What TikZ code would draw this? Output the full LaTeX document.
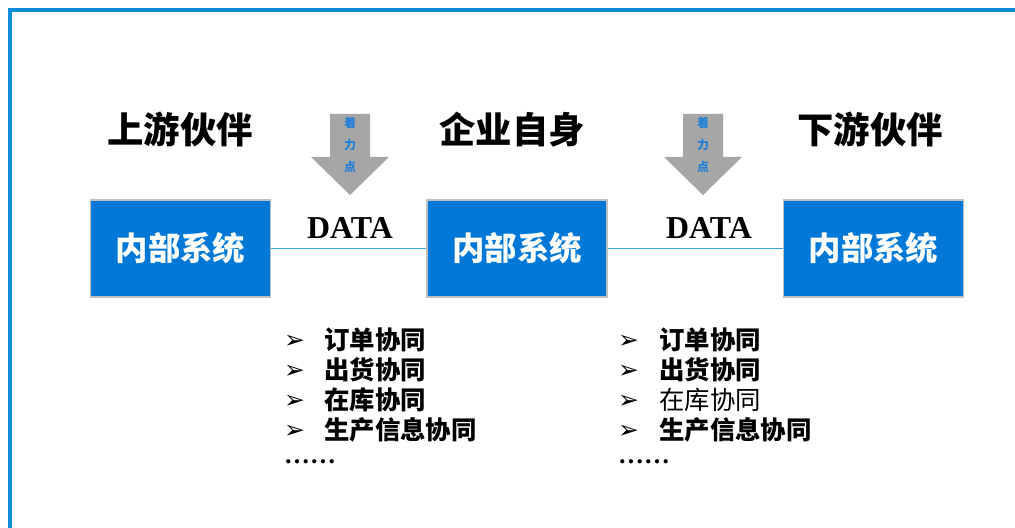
\documentclass[tikz,border=0pt]{standalone}
\usepackage{fontspec}
\setmainfont{Liberation Serif}
\newfontfamily\cjk{Noto Sans CJK SC}
\newfontfamily\dv{DejaVu Sans}
\definecolor{frameblue}{HTML}{0A8CD9}
\definecolor{boxblue}{HTML}{0078D7}
\definecolor{boxedge}{HTML}{BFBFBF}
\definecolor{linkblue}{HTML}{3AA8E8}
\definecolor{arrowgray}{HTML}{A6A6A6}
\definecolor{smallblue}{HTML}{1F7FD8}
\tikzset{
  sysbox/.style={fill=boxblue,draw=boxedge,line width=1.5bp,minimum width=180bp,minimum height=97bp,inner sep=0pt,text=white,font=\cjk\bfseries\fontsize{32.5}{36}\selectfont},
  headtxt/.style={font=\cjk\bfseries\fontsize{36.5}{40}\selectfont,inner sep=0pt},
  datatxt/.style={font=\bfseries\fontsize{32}{36}\selectfont,inner sep=0pt},
  vtxt/.style={font=\cjk\bfseries\fontsize{12}{14}\selectfont,text=smallblue,inner sep=0pt},
  bul/.style={font=\dv\bfseries\fontsize{25}{28}\selectfont,inner sep=0pt,anchor=west,text height=14bp,text depth=0pt},
  itm/.style={font=\cjk\bfseries\fontsize{25.5}{28}\selectfont,inner sep=0pt,anchor=west},
  itmr/.style={font=\cjk\fontsize{25.5}{28}\selectfont,inner sep=0pt,anchor=west},
  dots/.style={font=\bfseries\fontsize{26}{28}\selectfont,inner sep=0pt,anchor=west},
  link/.style={draw=linkblue,line width=1.2bp}
}
\begin{document}
\begin{tikzpicture}[x=1bp,y=-1bp]
\useasboundingbox (0,0) rectangle (1015,528);
\fill[white] (0,0) rectangle (1015,528);
% frame
\draw[frameblue,line width=4bp] (10,528) -- (10,10) -- (1015,10);
% headings
\node[headtxt] (h1) at (180,130) {上游伙伴};
\node[headtxt] (h2) at (512,130) {企业自身};
\node[headtxt] (h3) at (870,130) {下游伙伴};
% arrows
\foreach \cx/\nm in {350/a, 703/b}{
  \fill[arrowgray] (\cx-20,114) -- (\cx+20,114) -- (\cx+20,157) -- (\cx+39,157) -- (\cx,195) -- (\cx-39,157) -- (\cx-20,157) -- cycle;
  \node[vtxt] (\nm1) at (\cx,123) {着};
  \node[vtxt] (\nm2) at (\cx,145) {力};
  \node[vtxt] (\nm3) at (\cx,167) {点};
}
% boxes
\node[sysbox] (b1) at (180.5,248.5) {内部系统};
\node[sysbox] (b2) at (517,248.5) {内部系统};
\node[sysbox] (b3) at (873.5,248.5) {内部系统};
\draw[link] (b1.east) -- (b2.west);
\draw[link] (b2.east) -- (b3.west);
% DATA
\node[datatxt] (d1) at (350,228) {DATA};
\node[datatxt] (d2) at (709,228) {DATA};
% list 1
\node[bul] (p1) at (284,341) {➢};
\node[bul] (p2) at (284,371) {➢};
\node[bul] (p3) at (284,401) {➢};
\node[bul] (p4) at (284,431) {➢};
\node[itm] (i1) at (324,340) {订单协同};
\node[itm] (i2) at (324,370) {出货协同};
\node[itm] (i3) at (324,400) {在库协同};
\node[itm] (i4) at (324,430) {生产信息协同};
\node[dots] (e1) at (284,462) {……};
% list 2
\node[bul] (q1) at (618,341) {➢};
\node[bul] (q2) at (618,371) {➢};
\node[bul] (q3) at (618,401) {➢};
\node[bul] (q4) at (618,431) {➢};
\node[itm] (j1) at (659,340) {订单协同};
\node[itm] (j2) at (659,370) {出货协同};
\node[itmr] (j3) at (659,400) {在库协同};
\node[itm] (j4) at (659,430) {生产信息协同};
\node[dots] (e2) at (618,462) {……};
\end{tikzpicture}
\end{document}
